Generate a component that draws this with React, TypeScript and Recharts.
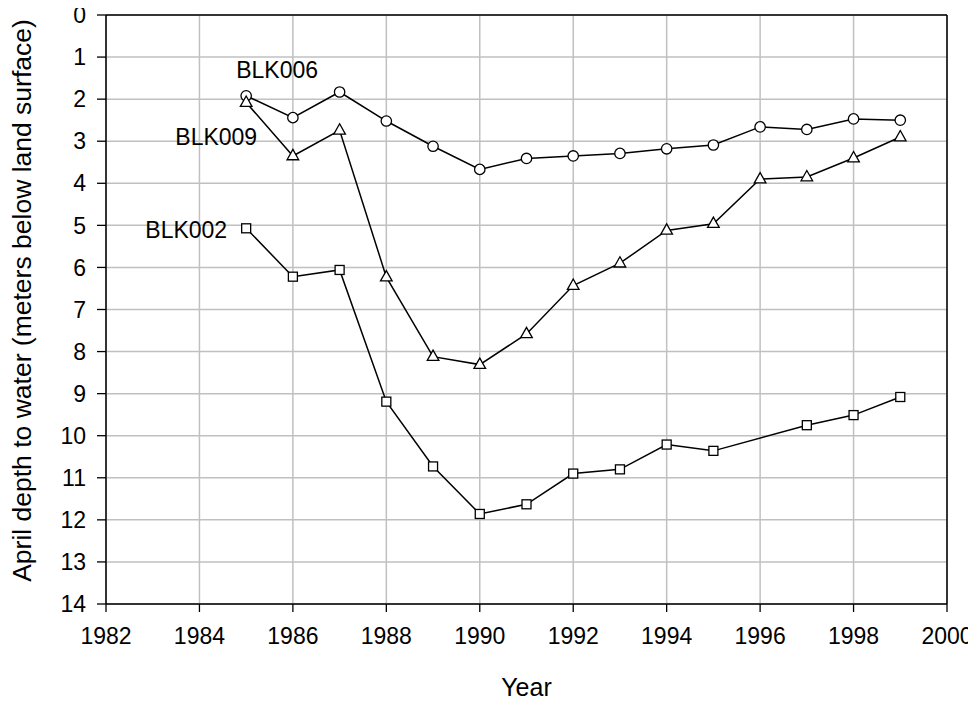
import { LineChart, Line, XAxis, YAxis, CartesianGrid, ReferenceLine, Label } from "recharts";

// April depth to water, meters below land surface
const years = [1985, 1986, 1987, 1988, 1989, 1990, 1991, 1992, 1993, 1994, 1995, 1996, 1997, 1998, 1999];
const blk006 = [1.92, 2.44, 1.83, 2.52, 3.12, 3.67, 3.41, 3.35, 3.29, 3.18, 3.09, 2.66, 2.72, 2.47, 2.5];
const blk009 = [2.08, 3.35, 2.74, 6.23, 8.12, 8.31, 7.58, 6.43, 5.9, 5.12, 4.96, 3.9, 3.85, 3.4, 2.9];
const blk002 = [5.07, 6.22, 6.06, 9.19, 10.73, 11.86, 11.63, 10.9, 10.8, 10.21, 10.36, null, 9.75, 9.51, 9.08];

const xTicks = [1982, 1984, 1986, 1988, 1990, 1992, 1994, 1996, 1998, 2000];
const yTicks = [0, 1, 2, 3, 4, 5, 6, 7, 8, 9, 10, 11, 12, 13, 14];

const data = years.map((year, i) => ({
  year,
  blk006: blk006[i],
  blk009: blk009[i],
  blk002: blk002[i],
}));

const FONT = "'Liberation Sans', Arial, sans-serif";

const circleDot = (p: any) => {
  if (p.cx == null || p.cy == null) return <g key={p.key} />;
  return <circle key={p.key} cx={p.cx} cy={p.cy} r={5.2} fill="#fff" stroke="#000" strokeWidth={1.3} />;
};

const triangleDot = (p: any) => {
  if (p.cx == null || p.cy == null) return <g key={p.key} />;
  const { cx, cy } = p;
  return (
    <path
      key={p.key}
      d={`M${cx},${cy - 6.5} L${cx + 5.8},${cy + 3.8} L${cx - 5.8},${cy + 3.8} Z`}
      fill="#fff"
      stroke="#000"
      strokeWidth={1.3}
    />
  );
};

const squareDot = (p: any) => {
  if (p.cx == null || p.cy == null) return <g key={p.key} />;
  return <rect key={p.key} x={p.cx - 4.5} y={p.cy - 4.5} width={9} height={9} fill="#fff" stroke="#000" strokeWidth={1.3} />;
};

const nameLabel = (name: string, dx: number, dy: number, anchor: "start" | "end") => (p: any) => {
  if (p.index !== 0) return null;
  return (
    <text key={name} x={p.x + dx} y={p.y + dy} textAnchor={anchor} fontSize={23} fontFamily={FONT} fill="#000">
      {name}
    </text>
  );
};

export default function App() {
  return (
    <div style={{ margin: "-8px 0 0 -8px", width: 976, height: 702 }}>
      <LineChart width={976} height={702} data={data} margin={{ top: 15, right: 29, bottom: 0, left: 8 }}>
        <CartesianGrid stroke="#c0c0c0" strokeWidth={1.5} />
        <XAxis
          dataKey="year"
          type="number"
          domain={[1982, 2000]}
          ticks={xTicks}
          height={98}
          tickSize={8}
          tickMargin={16}
          axisLine={{ stroke: "#000", strokeWidth: 1.5 }}
          tickLine={{ stroke: "#000", strokeWidth: 1.3 }}
          tick={{ fill: "#000", fontSize: 23, fontFamily: FONT }}
          interval={0}
        >
          <Label
            content={(props: any) => {
              const vb = props.viewBox;
              return (
                <text x={vb.x + vb.width / 2} y={vb.y + 92} textAnchor="middle" fontSize={25} fontFamily={FONT} fill="#000">
                  Year
                </text>
              );
            }}
          />
        </XAxis>
        <YAxis
          reversed
          type="number"
          domain={[0, 14]}
          ticks={yTicks}
          width={98}
          tickSize={9}
          tickMargin={11}
          axisLine={{ stroke: "#000", strokeWidth: 1.5 }}
          tickLine={{ stroke: "#000", strokeWidth: 1.3 }}
          tick={{ fill: "#000", fontSize: 23, fontFamily: FONT }}
          interval={0}
        >
          <Label
            content={(props: any) => {
              const vb = props.viewBox;
              const cy = vb.y + vb.height / 2 - 9;
              return (
                <text
                  x={31}
                  y={cy}
                  transform={`rotate(-90, 31, ${cy})`}
                  textAnchor="middle"
                  fontSize={26.5}
                  fontFamily={FONT}
                  fill="#000"
                >
                  April depth to water (meters below land surface)
                </text>
              );
            }}
          />
        </YAxis>
        <ReferenceLine y={0} stroke="#000" strokeWidth={1.5} />
        <ReferenceLine x={2000} stroke="#000" strokeWidth={1.5} />
        <Line
          dataKey="blk006"
          stroke="#000"
          strokeWidth={1.5}
          dot={circleDot}
          isAnimationActive={false}
          label={nameLabel("BLK006", -10, -18, "start")}
        />
        <Line
          dataKey="blk009"
          stroke="#000"
          strokeWidth={1.5}
          dot={triangleDot}
          isAnimationActive={false}
          label={nameLabel("BLK009", 11, 42, "end")}
        />
        <Line
          dataKey="blk002"
          stroke="#000"
          strokeWidth={1.5}
          dot={squareDot}
          connectNulls
          isAnimationActive={false}
          label={nameLabel("BLK002", -19, 10, "end")}
        />
      </LineChart>
    </div>
  );
}
